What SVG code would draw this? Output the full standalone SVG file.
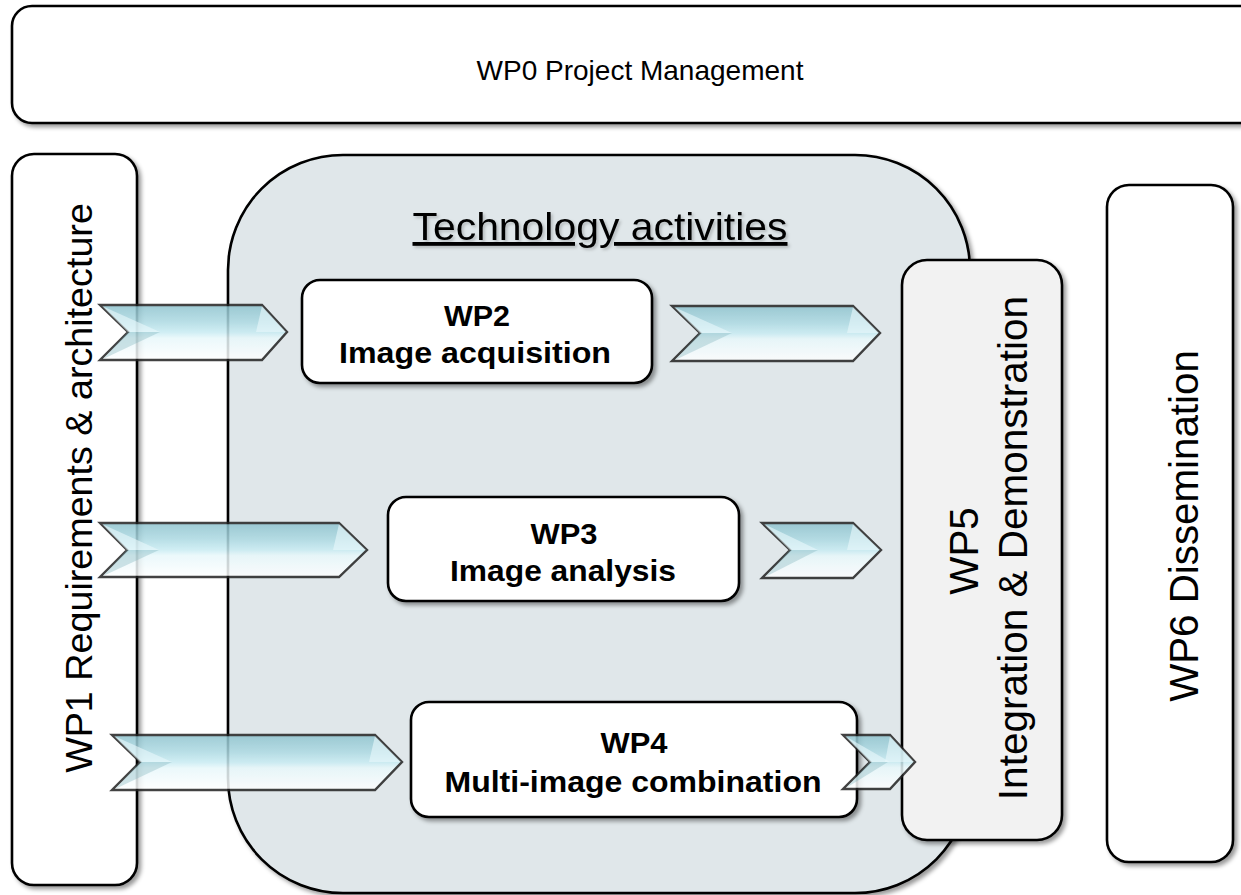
<svg xmlns="http://www.w3.org/2000/svg" width="1241" height="895" viewBox="0 0 1241 895">
<style>
.box{stroke:#000;stroke-width:2.6;fill:#fff}
text{font-family:'Liberation Sans',Arial,sans-serif;fill:#000}
.bold{font-weight:bold;text-anchor:middle}
.arrow-body{fill:url(#gArrow);stroke:#222;stroke-width:2.4;stroke-linejoin:miter;opacity:0.85}
.facet-l{fill:#e9f8fb;opacity:0.6}
.facet-d{fill:#7fb1bb;opacity:0.35}
</style>
<defs>
<filter id="sh" x="-10%" y="-10%" width="125%" height="125%">
<feDropShadow dx="3" dy="3" stdDeviation="2.2" flood-color="#000" flood-opacity="0.4"/>
</filter>
<filter id="tsh" x="-5%" y="-20%" width="115%" height="150%">
<feDropShadow dx="2" dy="2" stdDeviation="1.5" flood-color="#000" flood-opacity="0.2"/>
</filter>
<linearGradient id="gArrow" x1="0" y1="0" x2="0" y2="1">
<stop offset="0" stop-color="#8fc3ce"/>
<stop offset="0.3" stop-color="#acd9e2"/>
<stop offset="0.5" stop-color="#c9ecf3"/>
<stop offset="0.6" stop-color="#e8f8fb"/>
<stop offset="1" stop-color="#ffffff"/>
</linearGradient>
</defs>

<g id="wp0">
<rect class="box" x="12" y="6" width="1260" height="117" rx="20" filter="url(#sh)"/>
<text x="640" y="80" font-size="28" text-anchor="middle">WP0 Project Management</text>
</g>

<g id="wp1">
<rect class="box" x="12" y="154" width="125" height="731" rx="22" filter="url(#sh)"/>
<text transform="translate(92,488) rotate(-90)" x="0" y="0" font-size="37.7" text-anchor="middle">WP1 Requirements &amp; architecture</text>
</g>

<g id="technology">
<rect x="228" y="155" width="742" height="738" rx="115" fill="#e0e7ea" stroke="#000" stroke-width="2.6" filter="url(#sh)"/>
<text x="600" y="240" font-size="38" text-anchor="middle" textLength="375" lengthAdjust="spacingAndGlyphs" text-decoration="underline" filter="url(#tsh)">Technology activities</text>
</g>

<g id="wp6">
<rect class="box" x="1107" y="185" width="126" height="677" rx="22" filter="url(#sh)"/>
<text transform="translate(1198,526) rotate(-90)" x="0" y="0" font-size="40.3" text-anchor="middle">WP6 Dissemination</text>
</g>

<g id="wp5">
<rect class="box" x="902" y="260" width="160" height="580" rx="25" style="fill:#f2f2f2" filter="url(#sh)"/>
<text transform="translate(978,551) rotate(-90)" x="0" y="0" font-size="40.3" text-anchor="middle">WP5</text>
<text transform="translate(1027,548) rotate(-90)" x="0" y="0" font-size="40.5" text-anchor="middle">Integration &amp; Demonstration</text>
</g>

<g id="wp2">
<rect class="box" x="302" y="280" width="350" height="103" rx="18" filter="url(#sh)"/>
<text class="bold" x="477" y="326" font-size="30" textLength="66" lengthAdjust="spacingAndGlyphs">WP2</text>
<text class="bold" x="475" y="363" font-size="30" textLength="272" lengthAdjust="spacingAndGlyphs">Image acquisition</text>
</g>

<g id="wp3">
<rect class="box" x="388" y="497" width="351" height="104" rx="18" filter="url(#sh)"/>
<text class="bold" x="564" y="544" font-size="30" textLength="67" lengthAdjust="spacingAndGlyphs">WP3</text>
<text class="bold" x="563" y="581" font-size="30" textLength="226" lengthAdjust="spacingAndGlyphs">Image analysis</text>
</g>

<g id="wp4">
<rect class="box" x="411" y="702" width="446" height="115" rx="18" filter="url(#sh)"/>
<text class="bold" x="634" y="753" font-size="30" textLength="67" lengthAdjust="spacingAndGlyphs">WP4</text>
<text class="bold" x="633" y="792" font-size="30" textLength="377" lengthAdjust="spacingAndGlyphs">Multi-image combination</text>
</g>

<g id="connectors">
<g id="a1">
<path class="arrow-body" d="M100,305 H262 L287,332 L262,360 H100 L128,332 Z"/>
<polygon class="facet-l" points="102,306 128,332 160,332"/>
<polygon class="facet-d" points="128,332 160,332 103,359"/>
<polygon class="facet-l" points="262,306 286,332 256,332"/>
</g>
<g id="a2">
<path class="arrow-body" d="M672,306 H853 L880,333 L853,361 H672 L700,333 Z"/>
<polygon class="facet-l" points="674,307 700,333 732,333"/>
<polygon class="facet-d" points="700,333 732,333 675,360"/>
<polygon class="facet-l" points="853,307 879,333 847,333"/>
</g>
<g id="a3">
<path class="arrow-body" d="M100,523 H339 L367,550 L339,577 H100 L127,550 Z"/>
<polygon class="facet-l" points="102,524 127,550 159,550"/>
<polygon class="facet-d" points="127,550 159,550 103,576"/>
<polygon class="facet-l" points="339,524 366,550 333,550"/>
</g>
<g id="a4">
<path class="arrow-body" d="M112,735 H375 L402,762 L375,790 H112 L140,762 Z"/>
<polygon class="facet-l" points="114,736 140,762 172,762"/>
<polygon class="facet-d" points="140,762 172,762 115,789"/>
<polygon class="facet-l" points="375,736 401,762 369,762"/>
</g>
<g id="a5">
<path class="arrow-body" d="M762,523 H853 L881,550 L853,578 H762 L790,550 Z"/>
<polygon class="facet-l" points="764,524 790,550 818,550"/>
<polygon class="facet-d" points="790,550 818,550 765,577"/>
<polygon class="facet-l" points="853,524 880,550 847,550"/>
</g>
<g id="a6">
<path class="arrow-body" d="M843,735 H890 L915,762 L890,789 H843 L870,762 Z"/>
<polygon class="facet-l" points="845,736 870,762 890,762"/>
<polygon class="facet-d" points="870,762 888,762 846,788"/>
<polygon class="facet-l" points="890,736 914,762 885,762"/>
</g>
</g>
</svg>
